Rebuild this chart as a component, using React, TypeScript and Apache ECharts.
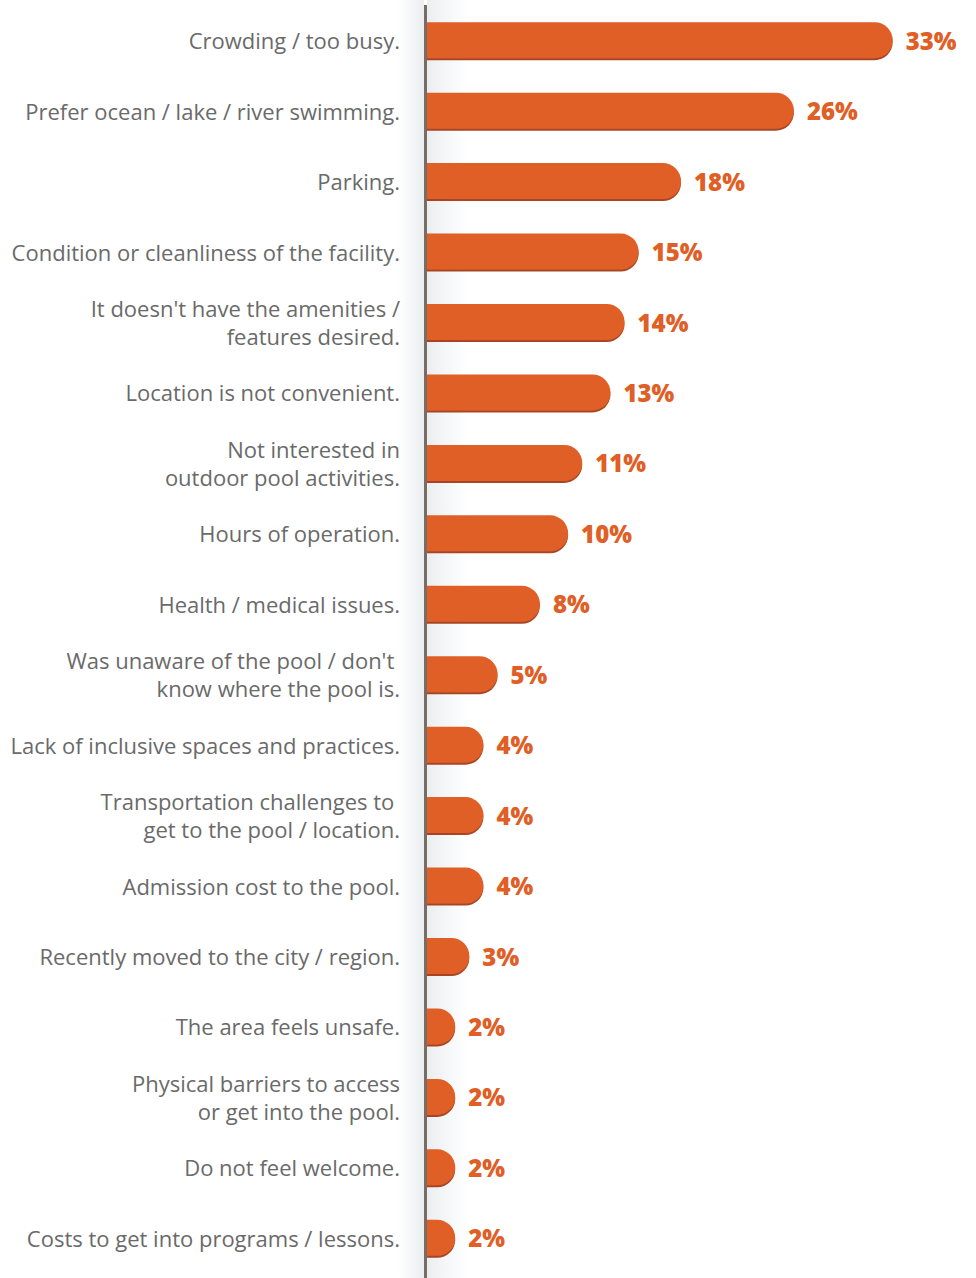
import React, { useEffect, useRef } from "react";
import * as echarts from "echarts";

const categories = [
  "Crowding / too busy.",
  "Prefer ocean / lake / river swimming.",
  "Parking.",
  "Condition or cleanliness of the facility.",
  "It doesn't have the amenities /\nfeatures desired.",
  "Location is not convenient.",
  "Not interested in\noutdoor pool activities.",
  "Hours of operation.",
  "Health / medical issues.",
  "Was unaware of the pool / don't \nknow where the pool is.",
  "Lack of inclusive spaces and practices.",
  "Transportation challenges to \nget to the pool / location.",
  "Admission cost to the pool.",
  "Recently moved to the city / region.",
  "The area feels unsafe.",
  "Physical barriers to access\nor get into the pool.",
  "Do not feel welcome.",
  "Costs to get into programs / lessons.",
];

const values = [33, 26, 18, 15, 14, 13, 11, 10, 8, 5, 4, 4, 4, 3, 2, 2, 2, 2];

export default function App() {
  const ref = useRef<HTMLDivElement>(null);
  useEffect(() => {
    document.body.style.margin = "0";
    const chart = echarts.init(ref.current!, null, { renderer: "svg" });
    chart.setOption({
      animation: false,
      backgroundColor: "#ffffff",
      graphic: [
        {
          type: "rect",
          shape: { x: 398, y: 0, width: 26, height: 1278 },
          style: {
            fill: new echarts.graphic.LinearGradient(0, 0, 1, 0, [
              { offset: 0, color: "rgba(235,238,240,0)" },
              { offset: 1, color: "rgba(235,238,240,1)" },
            ]),
          },
          z: -10,
        },
        {
          type: "rect",
          shape: { x: 427, y: 0, width: 40, height: 1278 },
          style: {
            fill: new echarts.graphic.LinearGradient(0, 0, 1, 0, [
              { offset: 0, color: "rgba(235,238,240,1)" },
              { offset: 1, color: "rgba(235,238,240,0)" },
            ]),
          },
          z: -10,
        },
        {
          type: "line",
          shape: { x1: 425.5, y1: 5, x2: 425.5, y2: 1278 },
          style: { stroke: "#786c64", lineWidth: 3 },
          z: 100,
        },
      ],
      grid: { left: 427, top: 5, width: 508, height: 1268 },
      xAxis: {
        type: "value",
        min: 0,
        max: 36,
        show: false,
      },
      yAxis: {
        type: "category",
        data: categories,
        inverse: true,
        axisLine: { show: false },
        axisTick: { show: false },
        axisLabel: {
          margin: 27,
          color: "#6a6a6a",
          fontFamily: "Open Sans",
          fontSize: 22,
          lineHeight: 28,
          align: "right",
        },
      },
      series: [
        {
          type: "bar",
          data: values,
          barWidth: 36,
          itemStyle: {
            color: "#e05f27",
            borderRadius: [0, 18, 18, 0],
            shadowColor: "rgba(160,50,15,0.9)",
            shadowOffsetY: 2,
            shadowBlur: 0,
          },
          label: {
            show: true,
            position: "right",
            distance: 13,
            formatter: "{c}%",
            color: "#e05f27",
            fontFamily: "Open Sans",
            fontWeight: 800,
            fontSize: 24,
          },
        },
      ],
    });
    return () => chart.dispose();
  }, []);
  return <div ref={ref} style={{ width: 976, height: 1278 }} />;
}
